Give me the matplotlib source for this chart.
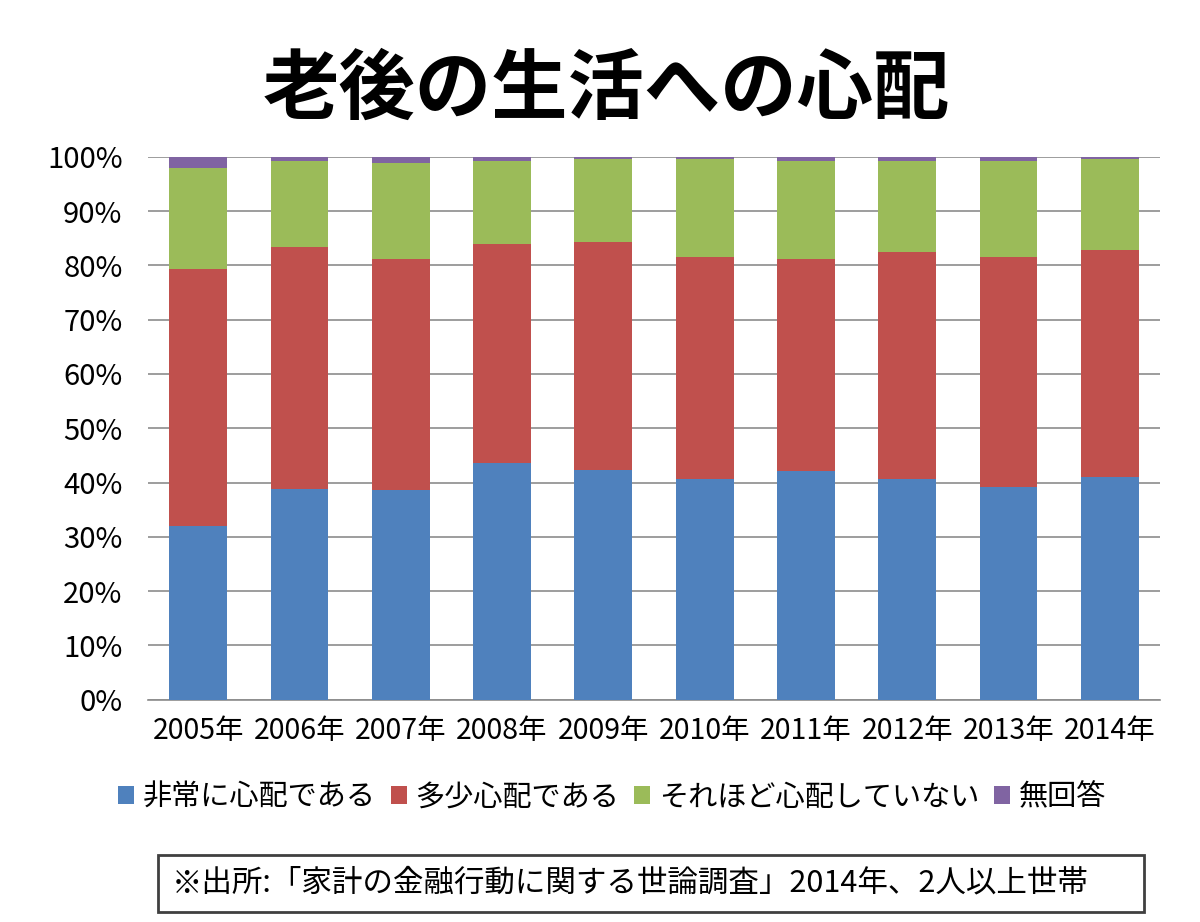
import numpy as np
import matplotlib
matplotlib.use("Agg")
import matplotlib.pyplot as plt
from matplotlib.patches import Patch, Rectangle

plt.rcParams['font.family'] = ['Noto Sans CJK JP', 'DejaVu Sans']

years = ["2005年", "2006年", "2007年", "2008年", "2009年",
         "2010年", "2011年", "2012年", "2013年", "2014年"]
# 単位: %
very_worried = [32.0, 38.9, 38.6, 43.6, 42.4, 40.6, 42.1, 40.6, 39.2, 41.1]
somewhat_worried = [47.3, 44.5, 42.6, 40.4, 41.9, 40.9, 39.1, 41.9, 42.3, 41.8]
not_worried = [18.7, 15.9, 17.7, 15.3, 15.3, 18.1, 18.1, 16.8, 17.8, 16.7]
no_answer = [2.0, 0.7, 1.1, 0.7, 0.4, 0.4, 0.7, 0.7, 0.7, 0.4]

series_names = ["非常に心配である", "多少心配である", "それほど心配していない", "無回答"]
colors = ["#4F81BD", "#C0504D", "#9BBB59", "#8064A2"]

fig = plt.figure(figsize=(12, 9.22), dpi=100)
ax = fig.add_axes([0.123, 0.241, 0.844, 0.589])

x = np.arange(len(years))
bottom = np.zeros(len(years))
for vals, c in zip([very_worried, somewhat_worried, not_worried, no_answer], colors):
    ax.bar(x, vals, width=0.57, bottom=bottom, color=c, zorder=3)
    bottom += np.array(vals)

ax.set_xlim(-0.5, len(years) - 0.5)
ax.set_ylim(0, 100)
ax.set_yticks(np.arange(0, 101, 10))
ax.set_yticklabels([f"{v}%" for v in range(0, 101, 10)], fontsize=21)
ax.set_xticks(x)
ax.set_xticklabels(years, fontsize=20.5)
ax.yaxis.grid(True, color="#8c8c8c", linewidth=1.2, zorder=0)
ax.tick_params(axis="y", length=0, pad=18)
ax.tick_params(axis="x", length=0, pad=12)
for s in ["top", "right", "left"]:
    ax.spines[s].set_visible(False)
ax.spines["bottom"].set_color("#8c8c8c")
ax.spines["bottom"].set_linewidth(1.2)

fig.text(0.505, 0.902, "老後の生活への心配", ha="center", va="center",
         fontsize=55, fontweight="bold")

handles = [Patch(facecolor=c, edgecolor="none") for c in colors]
fig.legend(handles, series_names, loc="center", bbox_to_anchor=(0.51, 0.135),
           ncol=4, frameon=False, fontsize=21, handlelength=0.55, handleheight=0.55,
           handletextpad=0.3, columnspacing=0.5)

# 出所の枠
fig.patches.append(Rectangle((0.132, 0.011), 0.821, 0.062, transform=fig.transFigure,
                             fill=False, edgecolor="#404040", linewidth=2))
fig.text(0.143, 0.042, "※出所:「家計の金融行動に関する世論調査」2014年、2人以上世帯",
         ha="left", va="center", fontsize=22)

fig.savefig("out.png", dpi=100, facecolor="white")
